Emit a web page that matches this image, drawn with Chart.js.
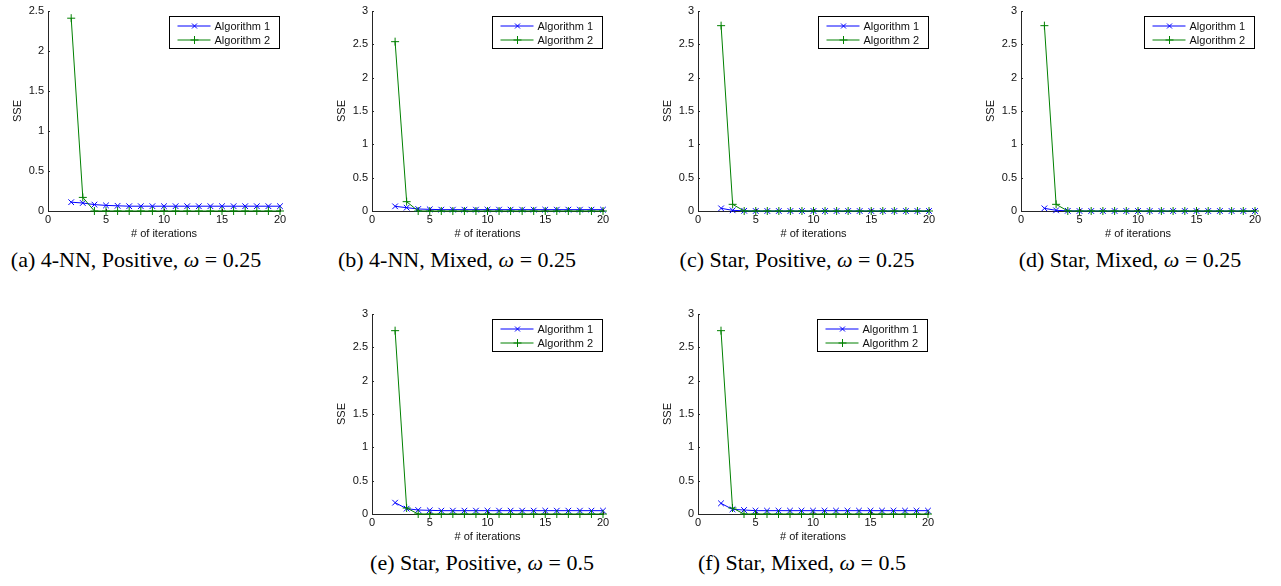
<!DOCTYPE html>
<html><head><meta charset="utf-8">
<script src="https://cdn.jsdelivr.net/npm/chart.js@4.4.1/dist/chart.umd.min.js"></script>
<style>
html,body{margin:0;padding:0;background:#fff;}
body{width:1281px;height:586px;position:relative;overflow:hidden;}
canvas{position:absolute;}
.cap{position:absolute;font-family:"Liberation Serif","DejaVu Serif",serif;font-size:18px;color:#000;white-space:nowrap;transform:translate(-50%,-50%);}
</style></head><body>
<script>
// ---------- data ----------
const iterations = [2,3,4,5,6,7,8,9,10,11,12,13,14,15,16,17,18,19,20];
const seriesNames = ['Algorithm 1','Algorithm 2'];
const xTicks = [0,5,10,15,20];

const alg1_a = [0.11,0.10,0.08,0.07,0.065,0.06,0.06,0.06,0.06,0.06,0.06,0.06,0.06,0.06,0.06,0.06,0.06,0.06,0.06];
const alg2_a = [2.41,0.17,0,0,0,0,0,0,0,0,0,0,0,0,0,0,0,0,0];
const alg1_b = [0.07,0.05,0.03,0.025,0.02,0.02,0.02,0.02,0.02,0.02,0.02,0.02,0.02,0.02,0.02,0.02,0.02,0.02,0.02];
const alg2_b = [2.54,0.14,0,0,0,0,0,0,0,0,0,0,0,0,0,0,0,0,0];
const alg1_c = [0.04,0.01,0.003,0,0,0,0,0,0,0,0,0,0,0,0,0,0,0,0];
const alg2_c = [2.78,0.10,0,0,0,0,0,0,0,0,0,0,0,0,0,0,0,0,0];
const alg1_d = [0.04,0.01,0.003,0,0,0,0,0,0,0,0,0,0,0,0,0,0,0,0];
const alg2_d = [2.78,0.10,0,0,0,0,0,0,0,0,0,0,0,0,0,0,0,0,0];
const alg1_e = [0.17,0.08,0.06,0.055,0.05,0.05,0.05,0.05,0.05,0.05,0.05,0.05,0.05,0.05,0.05,0.05,0.05,0.05,0.05];
const alg2_e = [2.75,0.09,0,0,0,0,0,0,0,0,0,0,0,0,0,0,0,0,0];
const alg1_f = [0.16,0.07,0.06,0.05,0.05,0.05,0.05,0.05,0.05,0.05,0.05,0.05,0.05,0.05,0.05,0.05,0.05,0.05,0.05];
const alg2_f = [2.75,0.09,0,0,0,0,0,0,0,0,0,0,0,0,0,0,0,0,0];

const yMaxA = 2.5, yMaxOther = 3;
const captions = ['(a) 4-NN, Positive, <i>ω</i> = 0.25','(b) 4-NN, Mixed, <i>ω</i> = 0.25','(c) Star, Positive, <i>ω</i> = 0.25','(d) Star, Mixed, <i>ω</i> = 0.25','(e) Star, Positive, <i>ω</i> = 0.5','(f) Star, Mixed, <i>ω</i> = 0.5'];

// ---------- layout (page pixels) ----------
// plot rect: [x0, x1, y0(top), y1(bottom)]
const plotRects = [[48,280,11,211],[372,603,11,211],[698,929,11,211],[1021,1255,11,211],[372,603,314,514],[698,928,314,514]];
// caption centre [x, y] and target width
const capPos = [[136,260,272],[457,260,268],[797,260,269],[1130,260,272],[482,563,275],[802,563,265]];

const panels = [
  {a1: alg1_a, a2: alg2_a, yMax: yMaxA},
  {a1: alg1_b, a2: alg2_b, yMax: yMaxOther},
  {a1: alg1_c, a2: alg2_c, yMax: yMaxOther},
  {a1: alg1_d, a2: alg2_d, yMax: yMaxOther},
  {a1: alg1_e, a2: alg2_e, yMax: yMaxOther},
  {a1: alg1_f, a2: alg2_f, yMax: yMaxOther}
];

const BLUE = '#0000ff', GREEN = '#008000', AXIS = '#262626', TXT = '#111111';
const FONT = {family: '"Liberation Sans", Arial, sans-serif', size: 11};
const PAD = {left: 48, right: 20, top: 11, bottom: 32};

function drawMarker(ctx, style, x, y, r, color) {
  ctx.save();
  ctx.strokeStyle = color; ctx.lineWidth = 1;
  ctx.beginPath();
  if (style === 'crossRot') {
    ctx.moveTo(x - r, y - r); ctx.lineTo(x + r, y + r);
    ctx.moveTo(x - r, y + r); ctx.lineTo(x + r, y - r);
  } else {
    ctx.moveTo(x - r, y); ctx.lineTo(x + r, y);
    ctx.moveTo(x, y - r); ctx.lineTo(x, y + r);
  }
  ctx.stroke();
  ctx.restore();
}

const inwardTicks = {
  id: 'inwardTicks',
  afterDraw(chart) {
    const {ctx, chartArea: ca, scales} = chart;
    ctx.save();
    ctx.strokeStyle = AXIS; ctx.lineWidth = 1;
    ctx.beginPath();
    scales.x.ticks.forEach(t => {
      const px = Math.round(scales.x.getPixelForValue(t.value)) + 0.5;
      ctx.moveTo(px, ca.bottom); ctx.lineTo(px, ca.bottom - 2);
    });
    scales.y.ticks.forEach(t => {
      const py = Math.round(scales.y.getPixelForValue(t.value)) + 0.5;
      ctx.moveTo(ca.left, py); ctx.lineTo(ca.left + 2, py);
    });
    ctx.stroke();
    ctx.restore();
  }
};

const boxLegend = {
  id: 'boxLegend',
  afterDraw(chart) {
    const {ctx, chartArea: ca} = chart;
    const w = 110, h = 32;
    const left = Math.round(ca.right - w - 1) + 0.5, top = Math.round(ca.top + 5) + 0.5;
    ctx.save();
    ctx.fillStyle = '#fff';
    ctx.fillRect(left, top, w, h);
    ctx.strokeStyle = '#000'; ctx.lineWidth = 1;
    ctx.strokeRect(left, top, w, h);
    chart.data.datasets.forEach((ds, i) => {
      const y = Math.round(top + 9 + i * 14);
      ctx.strokeStyle = ds.borderColor; ctx.lineWidth = 1;
      ctx.beginPath(); ctx.moveTo(left + 8, y); ctx.lineTo(left + 41, y); ctx.stroke();
      drawMarker(ctx, ds.pointStyle, left + 25, y, ds.pointStyle === 'crossRot' ? 2.5 : 4, ds.borderColor);
      ctx.fillStyle = TXT;
      ctx.font = '11px "Liberation Sans", Arial, sans-serif';
      ctx.textBaseline = 'middle'; ctx.textAlign = 'left';
      ctx.fillText(ds.label, left + 45, y + 0.5);
    });
    ctx.restore();
  }
};

function fmt(v) { return String(Number(v.toFixed(2))); }

panels.forEach((p, i) => {
  const [x0, x1, y0, y1] = plotRects[i];
  const cv = document.createElement('canvas');
  const W = (x1 - x0) + PAD.left + PAD.right, H = (y1 - y0) + PAD.top + PAD.bottom;
  cv.width = W; cv.height = H;
  cv.style.left = (x0 - PAD.left) + 'px'; cv.style.top = (y0 - PAD.top) + 'px';
  cv.style.width = W + 'px'; cv.style.height = H + 'px';
  document.body.appendChild(cv);

  new Chart(cv.getContext('2d'), {
    type: 'line',
    data: {
      datasets: [
        {label: seriesNames[0], data: iterations.map((x, k) => ({x, y: p.a1[k]})),
         borderColor: BLUE, backgroundColor: BLUE, borderWidth: 1, pointStyle: 'crossRot',
         pointRadius: 4, pointBorderWidth: 1, pointBorderColor: BLUE, fill: false, tension: 0, clip: false, order: 1},
        {label: seriesNames[1], data: iterations.map((x, k) => ({x, y: p.a2[k]})),
         borderColor: GREEN, backgroundColor: GREEN, borderWidth: 1, pointStyle: 'cross',
         pointRadius: 4, pointBorderWidth: 1, pointBorderColor: GREEN, fill: false, tension: 0, clip: false, order: 0}
      ]
    },
    options: {
      responsive: false, animation: false, devicePixelRatio: 1,
      layout: {padding: {top: PAD.top, right: PAD.right, left: 0, bottom: 0}},
      plugins: {legend: {display: false}, tooltip: {enabled: false}},
      scales: {
        x: {
          type: 'linear', min: 0, max: 20,
          afterBuildTicks: s => { s.ticks = xTicks.map(v => ({value: v})); },
          ticks: {font: FONT, color: TXT, padding: 2, maxRotation: 0, autoSkip: false, callback: v => fmt(v)},
          grid: {display: false, drawTicks: false},
          border: {display: true, color: AXIS, width: 1},
          title: {display: true, text: '# of iterations', font: FONT, color: TXT, padding: {top: 0, bottom: 2}},
          afterFit: s => { s.height = PAD.bottom; }
        },
        y: {
          type: 'linear', min: 0, max: p.yMax,
          ticks: {font: FONT, color: TXT, padding: 4, stepSize: 0.5, autoSkip: false, callback: v => fmt(v)},
          grid: {display: false, drawTicks: false},
          border: {display: true, color: AXIS, width: 1},
          title: {display: true, text: 'SSE', font: FONT, color: TXT, padding: {top: 11, bottom: 0}},
          afterFit: s => { s.width = PAD.left; }
        }
      }
    },
    plugins: [inwardTicks, boxLegend]
  });
});

captions.forEach((c, i) => {
  const d = document.createElement('div');
  d.className = 'cap';
  d.innerHTML = c;
  d.style.left = capPos[i][0] + 'px';
  d.style.top = capPos[i][1] + 'px';
  document.body.appendChild(d);
  const w = d.offsetWidth;
  const fs = Math.max(14, Math.min(22, 18 * capPos[i][2] / w));
  d.style.fontSize = fs.toFixed(2) + 'px';
});
</script>
</body></html>
